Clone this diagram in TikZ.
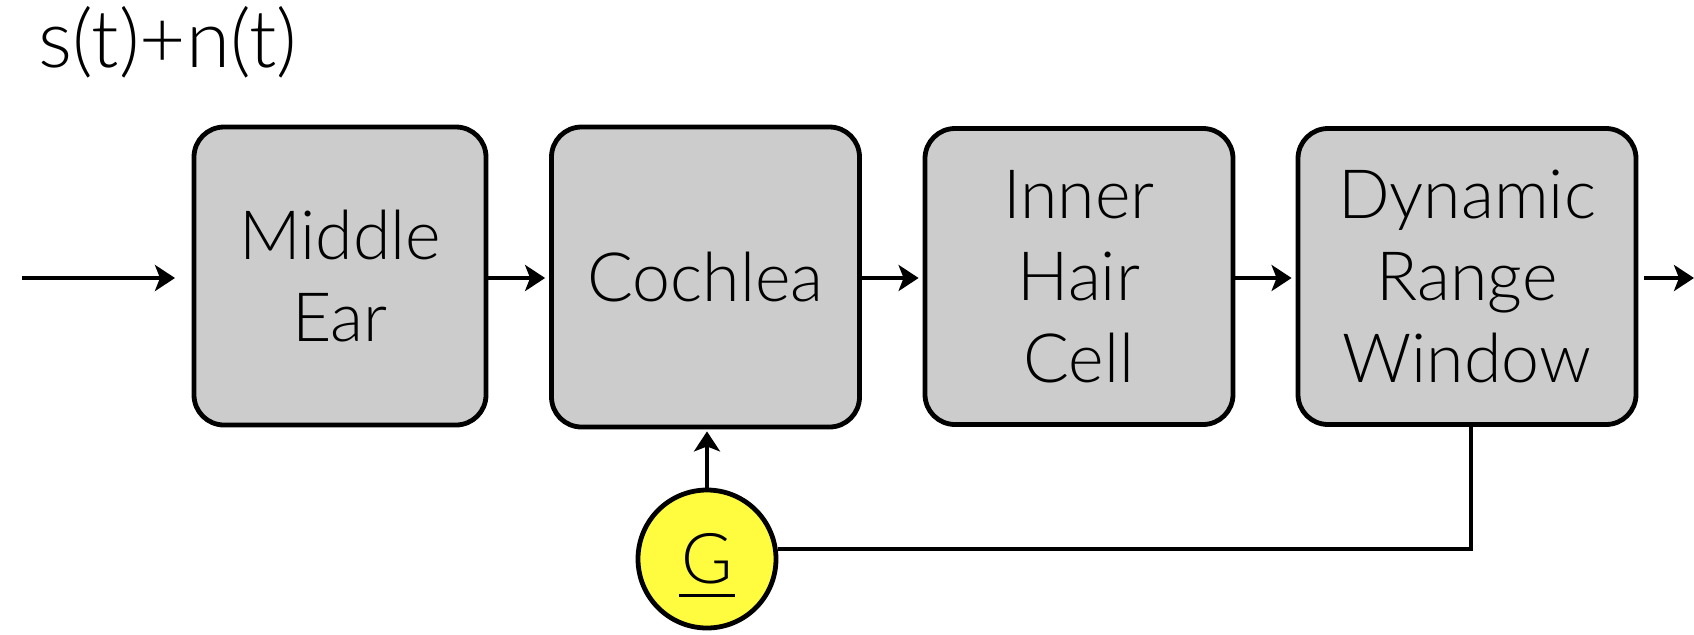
\documentclass[tikz,border=0pt]{standalone}
\usepackage{fontspec}
\setmainfont{Lato Light}
\usetikzlibrary{arrows.meta,calc}
\definecolor{boxgray}{RGB}{204,204,204}
\definecolor{gainyellow}{RGB}{255,252,64}
\tikzset{
  stage/.style={draw=black, line width=2.4pt, fill=boxgray, rounded corners=15pt,
    align=center, font=\fontsize{34}{41}\selectfont, inner sep=0pt},
  gain/.style={draw=black, line width=2.4pt, fill=gainyellow, circle,
    minimum size=69pt, inner sep=0pt, font=\fontsize{35}{38}\selectfont},
  flow/.style={line width=2.4pt, -{Stealth[length=10pt,width=13pt,inset=2.5pt]}},
  wire/.style={line width=2.4pt}
}
\begin{document}
\begin{tikzpicture}[x=0.5pt,y=-0.5pt]
  \useasboundingbox (0,0) rectangle (1694,634);

  % input signal label
  \node[anchor=base west, inner sep=0pt, font=\fontsize{40}{46}\selectfont]
    (sig) at (38,67) {s(t)+n(t)};

  % processing stages
  \node[stage, minimum width=146pt, minimum height=149pt] (ear) at (340,276) {Middle\\Ear};
  \node[stage, minimum width=154pt, minimum height=150pt] (coch) at (705.5,277) {Cochlea};
  \node[stage, minimum width=154pt, minimum height=148pt] (ihc) at (1079,276.5) {Inner\\Hair\\Cell};
  \node[stage, minimum width=169pt, minimum height=148pt] (drw) at (1467,276.5) {Dynamic\\Range\\Window};

  % gain control
  \node[gain] (G) at (707,559) {G};
  \draw[line width=1.4pt] ([xshift=-14pt,yshift=-6pt]G.base) -- ([xshift=14pt,yshift=-6pt]G.base);

  % signal path
  \coordinate (in) at (22,278);
  \coordinate (inend) at (175,278);
  \coordinate (out) at (1694,278);
  \draw[flow] (in) -- (inend);
  \draw[flow, shorten >=2pt] (ear.east |- in) -- (coch.west |- in);
  \draw[flow, shorten >=2pt] (coch.east |- in) -- (ihc.west |- in);
  \draw[flow, shorten >=2pt] (ihc.east |- in) -- (drw.west |- in);
  \draw[flow] ([xshift=3pt]drw.east |- in) -- (out);

  % feedback loop
  \coordinate (fb) at (1471,549);
  \draw[wire] (drw.south -| fb) -- (fb) -- (G.east |- fb);
  \draw[flow, shorten >=1pt] (G.north) -- (G.north |- coch.south);
\end{tikzpicture}
\end{document}
